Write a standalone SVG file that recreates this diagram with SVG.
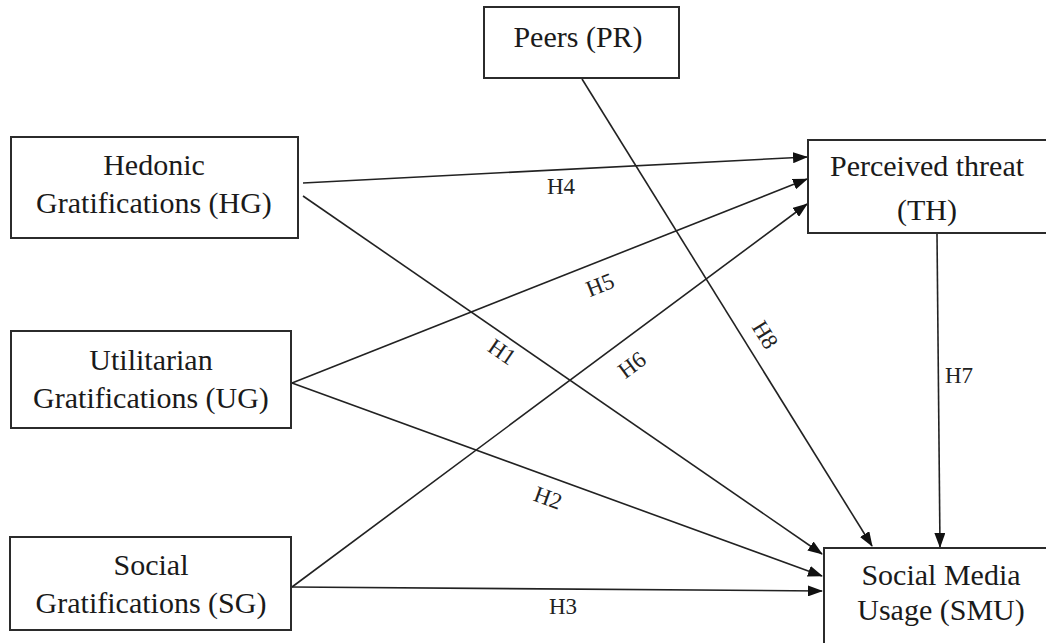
<svg xmlns="http://www.w3.org/2000/svg" width="1046" height="643" viewBox="0 0 1046 643">
<style>
.box{fill:#fff;stroke:#2b2b2b;stroke-width:2}
.t{font-size:30px;fill:#1a1a1a;text-anchor:middle}
.lbl{font-size:23px;fill:#222;text-anchor:middle;dominant-baseline:central}
.c{stroke:#222;stroke-width:1.6;fill:none;marker-end:url(#ah)}
</style>
<defs>
<marker id="ah" markerWidth="15" markerHeight="11" refX="14" refY="5.5" orient="auto" markerUnits="userSpaceOnUse">
<path d="M0,0 L15,5.5 L0,11 Z" fill="#111"/>
</marker>
</defs>
<rect width="1046" height="643" fill="#fff"/>
<g id="connectors" font-family="Liberation Serif, Times New Roman, DejaVu Serif, serif">
<line class="c" x1="303" y1="183" x2="807" y2="157"/>
<line class="c" x1="292" y1="383" x2="807" y2="179"/>
<line class="c" x1="292" y1="587" x2="807" y2="204"/>
<line class="c" x1="303" y1="196" x2="822" y2="554"/>
<line class="c" x1="292" y1="383" x2="822" y2="576"/>
<line class="c" x1="292" y1="587" x2="822" y2="591"/>
<line class="c" x1="582" y1="79" x2="872" y2="546"/>
<line class="c" x1="937" y1="234" x2="940" y2="547"/>
<text class="lbl" x="561" y="186">H4</text>
<text class="lbl" transform="translate(600,285) rotate(-21.6)">H5</text>
<text class="lbl" transform="translate(502,352) rotate(34.6)">H1</text>
<text class="lbl" transform="translate(632,365) rotate(-36.6)">H6</text>
<text class="lbl" transform="translate(765,335) rotate(58.2)">H8</text>
<text class="lbl" transform="translate(548,498) rotate(20)">H2</text>
<text class="lbl" x="563" y="606">H3</text>
<text class="lbl" x="959" y="375">H7</text>
</g>
<g id="nodes" font-family="Liberation Serif, Times New Roman, DejaVu Serif, serif">
<g id="PR">
<rect class="box" x="484" y="7" width="195" height="71"/>
<text class="t" x="578" y="47">Peers (PR)</text>
</g>
<g id="HG">
<rect class="box" x="11" y="137" width="287" height="101"/>
<text class="t" x="154" y="175">Hedonic</text>
<text class="t" x="154" y="213">Gratifications (HG)</text>
</g>
<g id="UG">
<rect class="box" x="11" y="331" width="280" height="97"/>
<text class="t" x="151" y="370">Utilitarian</text>
<text class="t" x="151" y="408">Gratifications (UG)</text>
</g>
<g id="SG">
<rect class="box" x="10" y="537" width="281" height="93"/>
<text class="t" x="151" y="575">Social</text>
<text class="t" x="151" y="613">Gratifications (SG)</text>
</g>
<g id="TH">
<rect class="box" x="808" y="140" width="245" height="93"/>
<text class="t" x="927" y="176">Perceived threat</text>
<text class="t" x="927" y="220">(TH)</text>
</g>
<g id="SMU">
<rect class="box" x="824" y="548" width="240" height="110"/>
<text class="t" x="941" y="585">Social Media</text>
<text class="t" x="941" y="620">Usage (SMU)</text>
</g>
</g>
</svg>
